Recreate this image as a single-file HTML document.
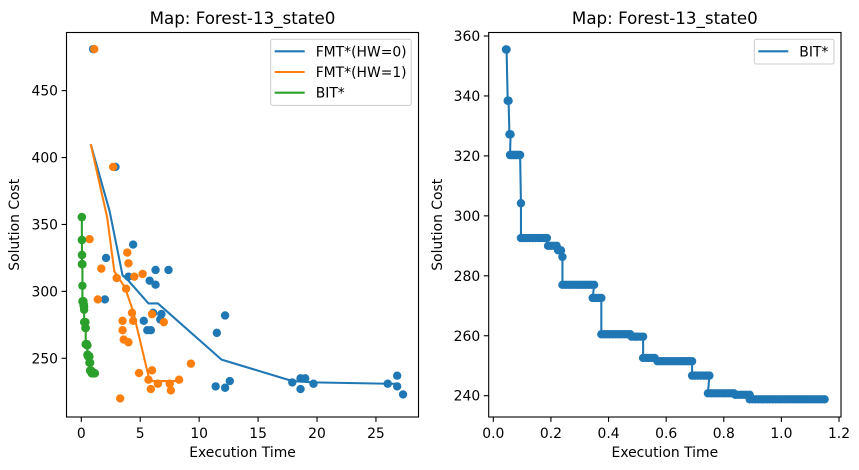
<!DOCTYPE html>
<html><head><meta charset="utf-8">
<style>
html,body{margin:0;padding:0;background:#fff;}
svg{display:block;font-family:"DejaVu Sans","Liberation Sans",sans-serif;}
</style></head>
<body>
<svg id="chart" width="859" height="470" viewBox="0 0 859 470" xmlns="http://www.w3.org/2000/svg"></svg>
<script>
// ---- Left panel data ----
const fmt0X = [1.0,2.9,2.1,2.0,4.4,4.0,5.8,6.3,6.3,7.4,5.3,5.6,5.9,6.1,6.7,6.8,11.5,12.2,11.4,12.2,12.6,17.9,18.6,18.6,19.0,19.7,26.0,26.8,26.8,27.3];
const fmt0Y = [481,393,325,294,335,311,308,305,316,316,278,271,271,284,279,283,269,282,229,228,233,232,235,227,235,231,231,237,229,223];
const fmt1X = [1.1,2.7,0.7,1.7,1.4,3.0,3.9,4.0,4.5,5.2,3.8,4.3,4.4,3.5,3.5,3.6,4.0,6.0,7.0,4.9,6.0,5.7,5.9,6.5,7.5,7.6,8.3,9.3,3.3];
const fmt1Y = [481,393,339,317,294,310,329,321,311,313,302,284,278,278,271,264,262,283,277,239,241,234,227,231,231,226,234,246,220];
const fmt0LineX = [0.8,2.4,3.5,4.0,5.7,6.5,11.9,17.9,19.7,26.0,27.0];
const fmt0LineY = [410,360,312,308,291,291,249,233,232,231,231];
const fmt1LineX = [0.8,2.2,2.8,3.7,4.4,5.8,6.2,8.0];
const fmt1LineY = [410,355,315,303,285,233,233,233];
// ---- BIT* data (both panels) ----
const bitX = [0.044,0.046,0.050,0.053,0.056,0.060,0.058,0.062,0.066,0.070,0.074,0.078,0.082,0.086,0.090,0.093,0.096,
0.096,0.106,0.116,0.126,0.136,0.146,0.156,0.166,0.176,0.186,0.190,0.200,0.210,0.220,0.225,0.230,0.235,0.240,
0.240,0.250,0.260,0.270,0.280,0.290,0.300,0.310,0.320,0.330,0.340,0.350,0.345,0.355,0.365,0.375,
0.375,0.385,0.395,0.405,0.415,0.425,0.435,0.445,0.455,0.465,0.475,0.480,0.490,0.500,0.510,0.520,
0.520,0.530,0.540,0.550,0.560,0.570,0.580,0.590,0.600,0.610,0.620,0.630,0.640,0.650,0.660,0.670,0.680,0.690,
0.690,0.700,0.710,0.720,0.730,0.740,0.750,0.745,0.755,0.765,0.775,0.785,0.795,0.805,0.815,0.825,0.835,0.840,0.850,0.860,0.870,0.880,0.890,
0.890,0.900,0.910,0.920,0.930,0.940,0.950,0.960,0.970,0.980,0.990,1.000,1.010,1.020,1.030,1.040,1.050,1.060,1.070,1.080,1.090,1.100,1.110,1.120,1.130,1.140,1.150];
const bitY = [355.5,355.5,338.4,338.4,327.2,327.2,320.3,320.3,320.3,320.3,320.3,320.3,320.3,320.3,320.3,320.3,304.2,
292.6,292.6,292.6,292.6,292.6,292.6,292.6,292.6,292.6,292.6,290,290,290,290,288.5,288.5,288.5,286.3,
277,277,277,277,277,277,277,277,277,277,277,277,272.6,272.6,272.6,272.6,
260.5,260.5,260.5,260.5,260.5,260.5,260.5,260.5,260.5,260.5,260.5,259.7,259.7,259.7,259.7,259.7,
252.6,252.6,252.6,252.6,252.6,251.5,251.5,251.5,251.5,251.5,251.5,251.5,251.5,251.5,251.5,251.5,251.5,251.5,
246.7,246.7,246.7,246.7,246.7,246.7,246.7,240.8,240.8,240.8,240.8,240.8,240.8,240.8,240.8,240.8,240.8,240.3,240.3,240.3,240.3,240.3,240.3,
238.8,238.8,238.8,238.8,238.8,238.8,238.8,238.8,238.8,238.8,238.8,238.8,238.8,238.8,238.8,238.8,238.8,238.8,238.8,238.8,238.8,238.8,238.8,238.8,238.8,238.8,238.8];
const leftXTicks = [0,5,10,15,20,25];
const leftYTicks = [250,300,350,400,450];
const rightXTicks = [0.0,0.2,0.4,0.6,0.8,1.0,1.2];
const rightYTicks = [240,260,280,300,320,340,360];

const NS = "http://www.w3.org/2000/svg";
const svg = document.getElementById('chart');
function mk(tag, attrs, parent){const e=document.createElementNS(NS,tag);for(const k in attrs)e.setAttribute(k,attrs[k]);(parent||svg).appendChild(e);return e;}

const C0='#1f77b4', C1='#ff7f0e', C2='#2ca02c';
const FS=13.9, TFS=16.7;

const lx = v => 81.3 + v*11.786;
const ly = v => 358.3 - (v-250)*1.3383;
const rx = v => 493.3 + v*288.1;
const ry = v => 395.7 - (v-240)*2.9975;

function drawAxes(name, x0,y0,x1,y1, xt, yt, sx, sy, xfmt, title, ylx){
  const g = mk('g',{});
  
  
  xt.forEach(v=>{
    const x=sx(v);
    const t=mk('line',{x1:x,x2:x,y1:y1,y2:y1+4.9,stroke:'#000','stroke-width':1.1},g);
    
    
    const l=mk('text',{x:x,y:y1+21,'font-size':FS,'text-anchor':'middle',fill:'#000'},g);
    l.textContent=xfmt(v);
    
    
  });
  yt.forEach(v=>{
    const y=sy(v);
    const t=mk('line',{x1:x0-4.9,x2:x0,y1:y,y2:y,stroke:'#000','stroke-width':1.1},g);
    
    
    const l=mk('text',{x:x0-8.5,y:y+5,'font-size':FS,'text-anchor':'end',fill:'#000'},g);
    l.textContent=String(v);
    
    
  });
  const xl=mk('text',{x:(x0+x1)/2,y:y1+40,'font-size':FS,'text-anchor':'middle'},g);
  xl.textContent='Execution Time';
  
  
  const yx=ylx, yy=(y0+y1)/2;
  const yl=mk('text',{x:yx,y:yy,'font-size':FS,'text-anchor':'middle','dominant-baseline':'central',transform:`rotate(-90 ${yx} ${yy})`},g);
  yl.textContent='Solution Cost';
  
  
  const tt=mk('text',{x:(x0+x1)/2,y:y0-8.5,'font-size':TFS,'text-anchor':'middle'},g);
  tt.textContent=title;
  
  
}
function frame(x0,y0,x1,y1){
  const r=mk('rect',{x:x0,y:y0,width:x1-x0,height:y1-y0,fill:'none',stroke:'#000','stroke-width':1.1});
  
  
}
function line(xs,ys,sx,sy,color,name){
  const p=mk('polyline',{points:xs.map((v,i)=>sx(v)+','+sy(ys[i])).join(' '),fill:'none',stroke:color,'stroke-width':2.08,'stroke-linejoin':'round'});
  
  
}
function pts(xs,ys,sx,sy,color,name){
  const g=mk('g',{fill:color});
  
  
  xs.forEach((v,i)=>{
    const c=mk('circle',{cx:sx(v),cy:sy(ys[i]),r:4.2},g);
    
    
  });
}
function legend(name,x,y,w,entries){
  const g=mk('g',{});
  
  
  mk('rect',{x:x,y:y,width:w,height:entries.length*20.7+4,rx:2,fill:'#fff','fill-opacity':0.8,stroke:'#ccc','stroke-width':1},g);
  entries.forEach((e,i)=>{
    const cy=y+12+i*20.7;
    mk('line',{x1:x+4,x2:x+34,y1:cy,y2:cy,stroke:e[1],'stroke-width':2.08},g);
    const t=mk('text',{x:x+45,y:cy+5,'font-size':FS},g);
    t.textContent=e[0];
    
    
  });
}

drawAxes('left-axes',66.5,32.5,418.5,417,leftXTicks,leftYTicks,lx,ly,v=>String(v),'Map: Forest-13_state0',15);
line(fmt0LineX,fmt0LineY,lx,ly,C0,'fmt-hw0-line');
pts(fmt0X,fmt0Y,lx,ly,C0,'fmt-hw0-points');
line(fmt1LineX,fmt1LineY,lx,ly,C1,'fmt-hw1-line');
pts(fmt1X,fmt1Y,lx,ly,C1,'fmt-hw1-points');
line(bitX,bitY,lx,ly,C2,'bit-line-left');
pts(bitX,bitY,lx,ly,C2,'bit-points-left');
frame(66.5,32.5,418.5,417);
legend('left-legend',270.7,39.3,140.5,[['FMT*(HW=0)',C0],['FMT*(HW=1)',C1],['BIT*',C2]]);

drawAxes('right-axes',488.7,32.5,841,417,rightXTicks,rightYTicks,rx,ry,v=>v.toFixed(1),'Map: Forest-13_state0',438);
line(bitX,bitY,rx,ry,C0,'bit-line-right');
pts(bitX,bitY,rx,ry,C0,'bit-points-right');
frame(488.7,32.5,841,417);
legend('right-legend',754.3,39.3,79.7,[['BIT*',C0]]);
</script>
</body></html>
